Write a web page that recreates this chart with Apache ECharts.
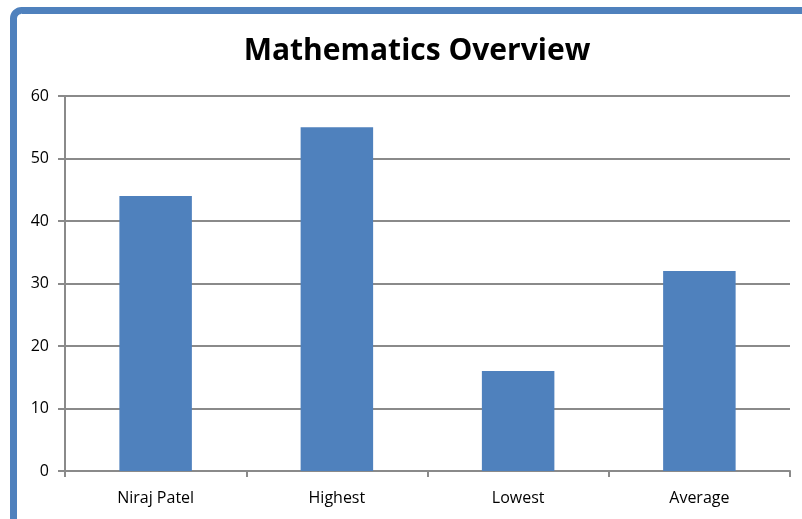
<!DOCTYPE html>
<html>
<head>
<meta charset="utf-8">
<script src="https://cdn.jsdelivr.net/npm/echarts@6/dist/echarts.min.js"></script>
<style>html,body{margin:0;padding:0;background:#fff;}#c{width:802px;height:519px;}</style>
</head>
<body>
<div id="c"></div>
<script>
const categories = ['Niraj Patel', 'Highest', 'Lowest', 'Average'];
const scores = [44, 55, 16, 32];
const yTicks = { min: 0, max: 60, interval: 10 };

const chart = echarts.init(document.getElementById('c'), null, { renderer: 'canvas' });
const grey = '#8a8a8a';
chart.setOption({
  animation: false,
  title: {
    text: 'Mathematics Overview',
    left: 412, top: 31, textAlign: 'center',
    textStyle: { fontFamily: 'Open Sans', fontWeight: 'bold', fontSize: 30, color: '#000' }
  },
  graphic: [{
    type: 'rect',
    shape: { x: 13.5, y: 10.5, width: 900, height: 700, r: 8 },
    style: { fill: 'none', stroke: '#4f81bd', lineWidth: 7 },
    silent: true
  }],
  grid: { left: 65, right: 12, top: 96, bottom: 48 },
  xAxis: {
    type: 'category',
    data: categories,
    axisLine: { lineStyle: { color: grey, width: 2 } },
    axisTick: { show: true, length: 6, lineStyle: { color: grey, width: 2 } },
    axisLabel: { color: '#000', fontFamily: 'Open Sans', fontSize: 16, margin: 19 }
  },
  yAxis: {
    type: 'value',
    min: yTicks.min, max: yTicks.max, interval: yTicks.interval,
    axisLine: { show: true, lineStyle: { color: grey, width: 2 } },
    axisTick: { show: true, length: 7, lineStyle: { color: grey, width: 2 } },
    splitLine: { lineStyle: { color: grey, width: 2 } },
    axisLabel: { color: '#000', fontFamily: 'Open Sans', fontSize: 16, margin: 16 }
  },
  series: [{
    type: 'bar',
    data: scores,
    barWidth: '40%',
    itemStyle: { color: '#4f81bd' }
  }]
});
</script>
</body>
</html>
